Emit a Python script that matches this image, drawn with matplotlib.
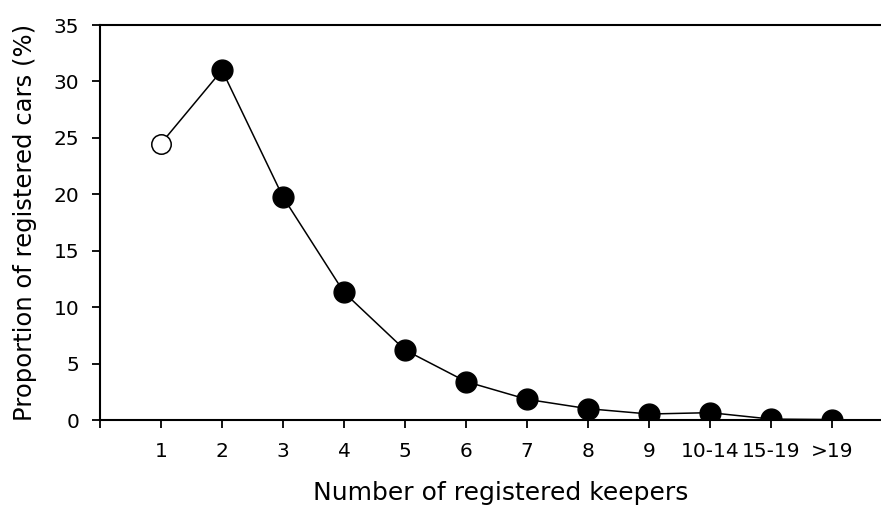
import matplotlib
matplotlib.use("Agg")
import matplotlib.pyplot as plt

categories = ["1", "2", "3", "4", "5", "6", "7", "8", "9", "10-14", "15-19", ">19"]
proportion = [24.5, 31.0, 19.75, 11.3, 6.2, 3.4, 1.83, 1.0, 0.53, 0.65, 0.08, 0.04]
y_ticks = [0, 5, 10, 15, 20, 25, 30, 35]

plt.rcParams['font.family'] = ['DejaVu Sans']

fig = plt.figure(figsize=(8.81, 5.09), dpi=100)
ax = fig.add_axes([100/881, 1-420/509, 1-100/881, (420-25)/509])

x = list(range(1, len(categories) + 1))
ax.plot(x, proportion, color='black', lw=1.1, zorder=2)
ax.plot(x[1:], proportion[1:], 'o', color='black', ms=15, zorder=3)
ax.plot(x[:1], proportion[:1], 'o', mfc='white', mec='black', mew=1.1, ms=14, zorder=3)

ax.set_xlim(0, 12.8)
ax.set_ylim(0, 35)
ax.set_xticks([0] + x)
ax.set_xticklabels([""] + categories)
ax.set_yticks(y_ticks)

for s in ['left', 'bottom', 'top']:
    ax.spines[s].set_linewidth(1.5)
ax.spines['right'].set_visible(False)
ax.tick_params(axis='both', direction='out', length=6, width=1.3, labelsize=14.5, pad=9)
ax.tick_params(axis='x', pad=10)

ax.set_xlabel("Number of registered keepers", fontsize=18, labelpad=13)
ax.xaxis.set_label_coords(0.513, -0.155)
ax.set_ylabel("Proportion of registered cars (%)", fontsize=17.5, labelpad=12)

fig.savefig("out.png", dpi=100)
